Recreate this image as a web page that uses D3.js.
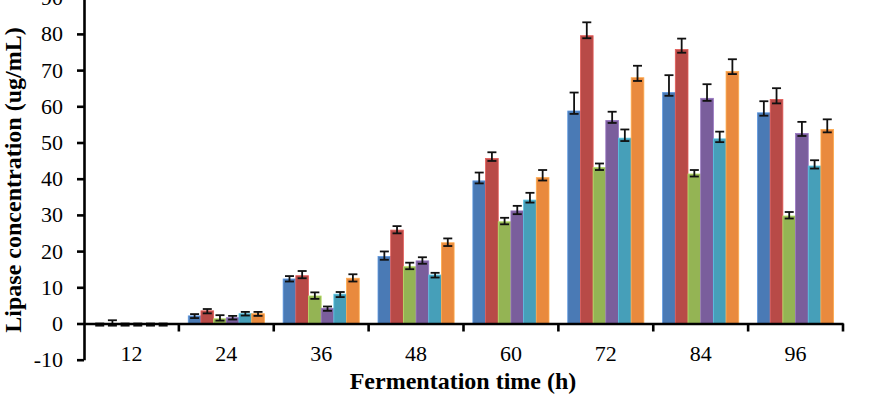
<!DOCTYPE html>
<html>
<head>
<meta charset="utf-8">
<script src="https://cdn.jsdelivr.net/npm/d3@7"></script>
<style>
  html, body { margin: 0; padding: 0; background: #fff; }
  svg { display: block; font-family: "Liberation Serif", "Times New Roman", serif; }
</style>
</head>
<body>
<svg id="chart" width="873" height="402"></svg>
<script>
const categories = ["12", "24", "36", "48", "60", "72", "84", "96"];
const seriesNames = ["S1", "S2", "S3", "S4", "S5", "S6"];
const seriesColors = ["#4A7AB5", "#B84A47", "#94B454", "#7A5E9C", "#469FB9", "#E98A3E"];
// values per series across fermentation times
const s1 = [-0.3, 2.1, 12.3, 18.5, 39.4, 58.7, 63.8, 58.2];
const s2 = [-0.3, 3.5, 13.2, 25.8, 45.6, 79.5, 75.7, 61.9];
const s3 = [-0.3, 1.3, 7.6, 15.7, 28.1, 43.1, 41.3, 29.7];
const s4 = [-0.3, 1.6, 4.2, 17.3, 31.1, 56.1, 62.2, 52.5];
const s5 = [-0.3, 2.7, 8.1, 13.4, 34.1, 51.2, 51.0, 43.5];
const s6 = [-0.3, 2.7, 12.5, 22.3, 40.3, 67.9, 69.6, 53.6];
// upper error extents
const e1Up = [0.3, 0.5, 0.8, 1.4, 2.3, 5.1, 4.8, 3.2];
const e2Up = [1.2, 0.5, 1.3, 1.1, 1.7, 3.7, 3.0, 3.1];
const e3Up = [0.3, 1.0, 1.0, 1.1, 1.1, 1.1, 1.1, 1.1];
const e4Up = [0.3, 0.5, 0.5, 1.0, 1.4, 2.4, 3.9, 3.2];
const e5Up = [0.3, 0.5, 0.6, 0.6, 2.0, 2.4, 2.0, 1.6];
const e6Up = [0.3, 0.5, 1.1, 1.2, 2.1, 3.3, 3.4, 2.8];
// lower error extents
const e1Dn = [0.3, 0.6, 0.7, 0.9, 0.7, 0.8, 0.9, 0.8];
const e2Dn = [0.3, 0.7, 0.7, 0.9, 0.7, 0.7, 0.9, 1.1];
const e3Dn = [0.3, 0.5, 0.8, 0.7, 0.7, 0.7, 0.7, 0.7];
const e4Dn = [0.3, 0.5, 0.7, 0.8, 0.9, 0.7, 0.7, 0.7];
const e5Dn = [0.3, 0.5, 0.8, 0.7, 0.7, 0.8, 0.9, 0.7];
const e6Dn = [0.3, 0.6, 0.9, 0.9, 0.8, 0.9, 0.7, 0.8];
const yTicks = [-10, 0, 10, 20, 30, 40, 50, 60, 70, 80, 90];
const xTitle = "Fermentation time (h)";
const yTitle = "Lipase concentration (ug/mL)";

const values = [s1, s2, s3, s4, s5, s6];
const errUp = [e1Up, e2Up, e3Up, e4Up, e5Up, e6Up];
const errDn = [e1Dn, e2Dn, e3Dn, e4Dn, e5Dn, e6Dn];

const svg = d3.select("#chart");
const left = 84, right = 843;
const y = d3.scaleLinear().domain([-10, 90]).range([359.7, -2.3]);
const x = d3.scaleBand().domain(categories).range([left, right]).padding(0);
const xs = d3.scaleBand().domain(seriesNames).range([0, x.bandwidth()]).paddingInner(0).paddingOuter(0.74);

const data = [];
categories.forEach((c, i) => {
  seriesNames.forEach((s, j) => {
    data.push({ c, s, j, v: values[j][i], up: errUp[j][i], dn: errDn[j][i] });
  });
});

// bars
svg.append("g").selectAll("rect").data(data).join("rect")
  .attr("x", d => x(d.c) + xs(d.s))
  .attr("width", xs.bandwidth())
  .attr("y", d => Math.min(y(d.v), y(0)))
  .attr("height", d => Math.abs(y(d.v) - y(0)))
  .attr("fill", d => seriesColors[d.j])
  .attr("stroke", d => d3.color(seriesColors[d.j]).brighter(0.6))
  .attr("stroke-width", 0.8);

// error bars
const eg = svg.append("g").attr("stroke", "#111").attr("stroke-width", 1.8).attr("fill", "none");
const capW = 4.5;
data.forEach(d => {
  const cx = x(d.c) + xs(d.s) + xs.bandwidth() / 2;
  const yt = y(d.v + d.up), yb = y(d.v - d.dn);
  eg.append("line").attr("x1", cx).attr("x2", cx).attr("y1", yt).attr("y2", yb);
  eg.append("line").attr("x1", cx - capW).attr("x2", cx + capW).attr("y1", yt).attr("y2", yt);
  eg.append("line").attr("x1", cx - capW).attr("x2", cx + capW).attr("y1", yb).attr("y2", yb);
});

// y axis
const yAxis = svg.append("g").attr("transform", `translate(${left},0)`)
  .call(d3.axisLeft(y).tickValues(yTicks).tickFormat(d => String(d)).tickSize(7).tickPadding(14).tickSizeOuter(0));
yAxis.select(".domain").attr("stroke", "#000").attr("stroke-width", 2.6);
yAxis.selectAll(".tick line").attr("stroke", "#000").attr("stroke-width", 2.6);
yAxis.selectAll(".tick text").attr("font-size", 22).attr("fill", "#000")
  .attr("font-family", "Liberation Serif, Times New Roman, serif");

// x axis at y=0
const xAxis = svg.append("g").attr("transform", `translate(0,${y(0)})`)
  .call(d3.axisBottom(x).tickSize(0).tickPadding(22).tickSizeOuter(0));
xAxis.select(".domain").attr("stroke", "#000").attr("stroke-width", 2.6);
xAxis.selectAll(".tick text").attr("font-size", 22).attr("fill", "#000")
  .attr("font-family", "Liberation Serif, Times New Roman, serif");
// boundary tick marks
xAxis.append("g").selectAll("line").data(categories).join("line")
  .attr("x1", c => x(c) + x.bandwidth()).attr("x2", c => x(c) + x.bandwidth())
  .attr("y1", 0).attr("y2", 8)
  .attr("stroke", "#000").attr("stroke-width", 2.6);

// titles
svg.append("text")
  .attr("x", 463).attr("y", 389)
  .attr("text-anchor", "middle")
  .attr("font-weight", "bold").attr("font-size", 24)
  .text(xTitle);
svg.append("text")
  .attr("transform", "translate(21,180) rotate(-90)")
  .attr("text-anchor", "middle")
  .attr("font-weight", "bold").attr("font-size", 24)
  .text(yTitle);
</script>
</body>
</html>
